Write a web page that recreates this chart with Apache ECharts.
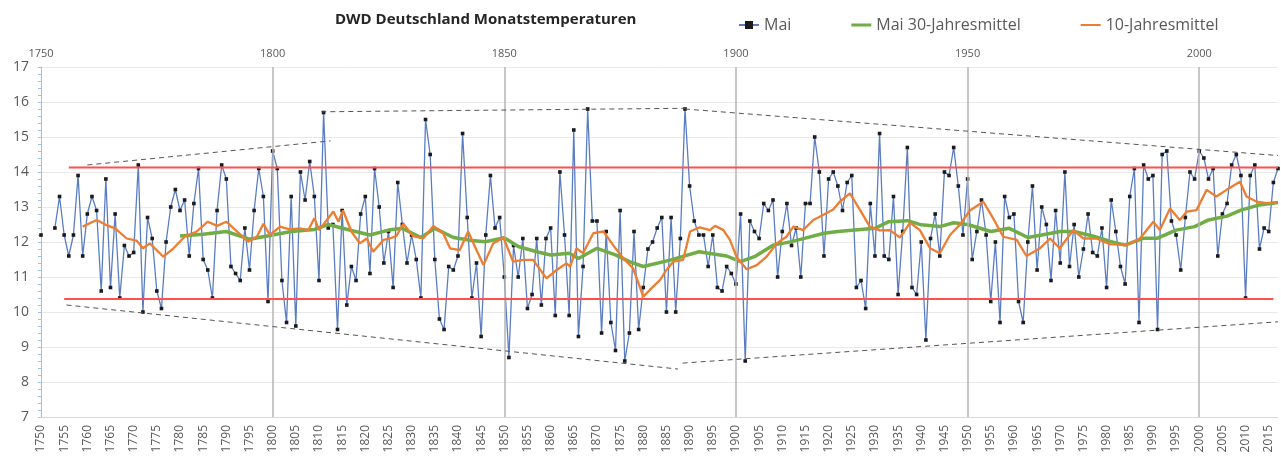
<!DOCTYPE html>
<html><head><meta charset="utf-8">
<script src="https://cdn.jsdelivr.net/npm/echarts@6/dist/echarts.min.js"></script>
<style>html,body{margin:0;padding:0;background:#fff}#c{width:1281px;height:461px}</style>
</head><body><div id="c"></div>
<script>
const firstYear = 1750;
const lastYear = 2017;
// Mai monthly mean temperature, one value per year from 1750 (null = no value)
const maiValues = [
12.2,null,null,12.4,13.3,12.2,11.6,12.2,13.9,11.6,
12.8,13.3,12.9,10.6,13.8,10.7,12.8,10.4,11.9,11.6,
11.7,14.2,10.0,12.7,12.1,10.6,10.1,12.0,13.0,13.5,
12.9,13.2,11.6,13.1,14.1,11.5,11.2,10.4,12.9,14.2,
13.8,11.3,11.1,10.9,12.4,11.2,12.9,14.1,13.3,10.3,
14.6,14.1,10.9,9.7,13.3,9.6,14.0,13.2,14.3,13.3,
10.9,15.7,12.4,12.5,9.5,12.9,10.2,11.3,10.9,12.8,
13.3,11.1,14.1,13.0,11.4,12.3,10.7,13.7,12.5,11.4,
12.2,11.5,10.4,15.5,14.5,11.5,9.8,9.5,11.3,11.2,
11.6,15.1,12.7,10.4,11.4,9.3,12.2,13.9,12.4,12.7,
11.0,8.7,11.9,11.0,12.1,10.1,10.5,12.1,10.2,12.1,
12.4,9.9,14.0,12.2,9.9,15.2,9.3,11.3,15.8,12.6,
12.6,9.4,12.3,9.7,8.9,12.9,8.6,9.4,12.3,9.5,
10.7,11.8,12.0,12.4,12.7,10.0,12.7,10.0,12.1,15.8,
13.6,12.6,12.2,12.2,11.3,12.2,10.7,10.6,11.3,11.1,
10.8,12.8,8.6,12.6,12.3,12.1,13.1,12.9,13.2,11.0,
12.3,13.1,11.9,12.4,11.0,13.1,13.1,15.0,14.0,11.6,
13.8,14.0,13.6,12.9,13.7,13.9,10.7,10.9,10.1,13.1,
11.6,15.1,11.6,11.5,13.3,10.5,12.3,14.7,10.7,10.5,
12.0,9.2,12.1,12.8,11.6,14.0,13.9,14.7,13.6,12.2,
13.8,11.5,12.3,13.2,12.2,10.3,12.0,9.7,13.3,12.7,
12.8,10.3,9.7,12.0,13.6,11.2,13.0,12.5,10.9,12.9,
11.4,14.0,11.3,12.5,11.0,11.8,12.8,11.7,11.6,12.4,
10.7,13.2,12.3,11.3,10.8,13.3,14.1,9.7,14.2,13.8,
13.9,9.5,14.5,14.6,12.6,12.2,11.2,12.7,14.0,13.8,
14.6,14.4,13.8,14.1,11.6,12.8,13.1,14.2,14.5,13.9,
10.4,13.9,14.2,11.8,12.4,12.3,13.7,14.1
];
// 30-year mean (green), [year, value]
const mean30 = [
[1780,12.17],[1785,12.22],[1790,12.3],[1795,12.08],[1800,12.2],[1804,12.3],[1809,12.36],
[1812,12.5],[1817,12.33],[1821,12.2],[1825,12.34],[1828,12.39],[1832,12.13],[1835,12.39],
[1839,12.13],[1843,12.04],[1846,12.01],[1850,12.12],[1853,11.87],[1857,11.72],[1860,11.63],
[1864,11.68],[1866,11.53],[1870,11.82],[1874,11.63],[1877,11.44],[1880,11.3],[1886,11.49],
[1892,11.72],[1898,11.6],[1901,11.44],[1904,11.58],[1908,11.91],[1912,12.01],[1915,12.11],
[1919,12.25],[1922,12.3],[1930,12.39],[1933,12.58],[1937,12.61],[1940,12.49],[1944,12.44],
[1947,12.55],[1950,12.5],[1952,12.42],[1955,12.3],[1959,12.39],[1963,12.13],[1966,12.2],
[1970,12.3],[1973,12.3],[1977,12.17],[1981,12.01],[1984,11.91],[1988,12.11],[1991,12.11],
[1995,12.34],[1999,12.44],[2002,12.63],[2006,12.74],[2009,12.91],[2013,13.06],[2017,13.13]
];
// 10-year mean (orange), [year, value]
const mean10 = [
[1759,12.44],[1762,12.63],[1764,12.49],[1766,12.39],[1768.5,12.1],[1770.6,12.04],[1772,11.82],
[1773.5,11.96],[1776.4,11.58],[1778.6,11.82],[1781,12.15],[1783.6,12.3],[1786,12.58],[1788,12.46],
[1790,12.58],[1792,12.34],[1794.7,12.01],[1796.6,12.15],[1798,12.52],[1799.4,12.2],[1801.6,12.44],
[1803.7,12.36],[1805.9,12.39],[1807.7,12.34],[1809,12.68],[1810,12.34],[1812,12.68],[1813.1,12.87],
[1814.2,12.58],[1815.2,12.9],[1817,12.3],[1818.8,11.96],[1820.3,12.1],[1821.7,11.72],[1823.9,12.06],
[1825.3,12.1],[1826.7,12.17],[1828.2,12.52],[1830.3,12.17],[1832.5,12.1],[1834.7,12.46],[1836.8,12.25],
[1838.3,11.82],[1840.4,11.77],[1842.2,12.3],[1844,11.77],[1845.5,11.34],[1847.6,11.96],[1849.8,12.13],
[1851.9,11.44],[1854.1,11.49],[1856.2,11.49],[1859.1,10.96],[1861.3,11.2],[1863.4,11.39],[1864.2,11.3],
[1865.6,11.82],[1867,11.68],[1869.2,12.25],[1871.4,12.3],[1873.5,11.91],[1875.7,11.53],[1877.8,11.25],
[1880,10.44],[1881.4,10.63],[1883.6,10.91],[1885,11.2],[1886.5,11.44],[1888.6,11.49],[1890.1,12.3],
[1892.2,12.42],[1894.4,12.34],[1895.5,12.46],[1897.3,12.34],[1898.7,12.06],[1900.1,11.58],[1902.3,11.22],
[1904.5,11.34],[1906.6,11.58],[1908.8,11.96],[1910.9,12.15],[1912.4,12.44],[1914.5,12.34],[1916.7,12.63],
[1918.8,12.77],[1921,12.93],[1922.4,13.15],[1924.6,13.39],[1926.8,12.91],[1928.9,12.44],[1931.1,12.33],
[1933.2,12.34],[1935.4,12.13],[1937.6,12.55],[1939.7,12.34],[1941.9,11.82],[1944,11.68],[1946.2,12.2],
[1948.3,12.49],[1950.5,12.9],[1953.4,13.15],[1955.5,12.68],[1957.7,12.15],[1960.6,12.06],[1962.7,11.6],
[1965.6,11.82],[1967.8,12.1],[1969.9,11.82],[1972.8,12.34],[1975,12.1],[1977.8,12.1],[1980.7,11.94],
[1984.3,11.91],[1987.2,12.1],[1990.1,12.58],[1991.5,12.34],[1993.7,12.96],[1995.8,12.63],[1997.3,12.87],
[1999.4,12.91],[2001.6,13.49],[2003.7,13.3],[2005.9,13.49],[2008.8,13.72],[2010.2,13.3],[2012.4,13.15],
[2014.5,13.11],[2017,13.13]
];
const redUpper = [[1756,14.13],[2017,14.13]];
const redLower = [[1755,10.37],[2016,10.37]];
const envelopes = [
  [[1760,14.2],[1812.5,14.89]],
  [[1810.5,15.72],[1889,15.82]],
  [[1889,15.8],[2017,14.47]],
  [[1755.5,10.2],[1887.5,8.37]],
  [[1888.5,8.54],[2017,9.72]]
];
const centuryLines = [1800,1850,1900,1950,2000];
const yMin = 7, yMax = 17;

const maiData = maiValues.map((v,i)=>[firstYear+i, v]);
const labelColor = '#595959';
const font = 'Open Sans';
const yearFmt = v => String(v);

const series = [
  {name:'grid', type:'line', data:[], z:1, silent:true,
   markLine:{silent:true, symbol:'none', label:{show:false}, animation:false,
     lineStyle:{color:'#b4b4b4', width:1.5, type:'solid'},
     data: centuryLines.map(y=>({xAxis:y}))}},
  {name:'Mai', type:'line', data:maiData, connectNulls:false, z:3,
   symbol:'rect', symbolSize:3.6, showAllSymbol:true,
   itemStyle:{color:'#1a1a1a'}, lineStyle:{color:'#5a7dc2', width:1.3}},
  {name:'Mai 30-Jahresmittel', type:'line', data:mean30, z:4, symbol:'none',
   itemStyle:{color:'#70ad47'}, lineStyle:{color:'#70ad47', width:3.5}},
  {name:'10-Jahresmittel', type:'line', data:mean10, z:5, symbol:'none',
   itemStyle:{color:'#ed7d31'}, lineStyle:{color:'#ed7d31', width:2.3}},
  {name:'redU', type:'line', data:redUpper, z:6, symbol:'none', silent:true,
   lineStyle:{color:'#ff4f4f', width:2}},
  {name:'redL', type:'line', data:redLower, z:6, symbol:'none', silent:true,
   lineStyle:{color:'#ff4f4f', width:2}}
];
envelopes.forEach((seg,k)=>series.push({name:'env'+k, type:'line', data:seg, z:7, symbol:'none', silent:true,
  lineStyle:{color:'#555', width:1, type:[5,4]}}));

const chart = echarts.init(document.getElementById('c'), null, {renderer:'canvas'});
chart.setOption({
  animation:false,
  backgroundColor:'#fff',
  title:{text:'DWD Deutschland Monatstemperaturen', left:330, top:7,
    textStyle:{fontFamily:font, fontSize:15, fontWeight:'bold', color:'#262626'}},
  legend:{left:733, top:12, itemWidth:20, itemHeight:10, itemGap:60,
    data:[
      {name:'Mai'},
      {name:'Mai 30-Jahresmittel', icon:'path://M0,0L0.01,0ZM0,3.3H22V6.7H0ZM0,10L0.01,10Z'},
      {name:'10-Jahresmittel', icon:'path://M0,0L0.01,0ZM0,3.8H22V6.2H0ZM0,10L0.01,10Z'}
    ],
    textStyle:{fontFamily:font, fontSize:16, color:labelColor}},
  grid:{left:41, right:3, top:67, bottom:44, containLabel:false},
  xAxis:[
    {type:'value', min:firstYear, max:lastYear, interval:5, position:'bottom',
     axisLine:{show:true, lineStyle:{color:'#d9d9d9'}}, axisTick:{show:false},
     splitLine:{show:false},
     axisLabel:{rotate:90, showMaxLabel:false, margin:8, formatter:yearFmt, color:labelColor, fontFamily:font, fontSize:12}},
    {type:'value', min:firstYear, max:lastYear, interval:50, position:'top',
     axisLine:{show:false}, axisTick:{show:false}, splitLine:{show:false},
     axisLabel:{showMaxLabel:false, margin:8, formatter:yearFmt, color:labelColor, fontFamily:font, fontSize:11}}
  ],
  yAxis:{type:'value', min:yMin, max:yMax, interval:1,
    axisLine:{show:true, lineStyle:{color:'#9dc3e6'}},
    axisTick:{show:true, length:3, lineStyle:{color:'#9dc3e6'}},
    minorTick:{show:true, splitNumber:5, length:3, lineStyle:{color:'#9dc3e6'}},
    splitLine:{show:true, lineStyle:{color:'#e9e9e9'}},
    axisLabel:{margin:12, color:labelColor, fontFamily:font, fontSize:14}},
  series: series
});
</script></body></html>
